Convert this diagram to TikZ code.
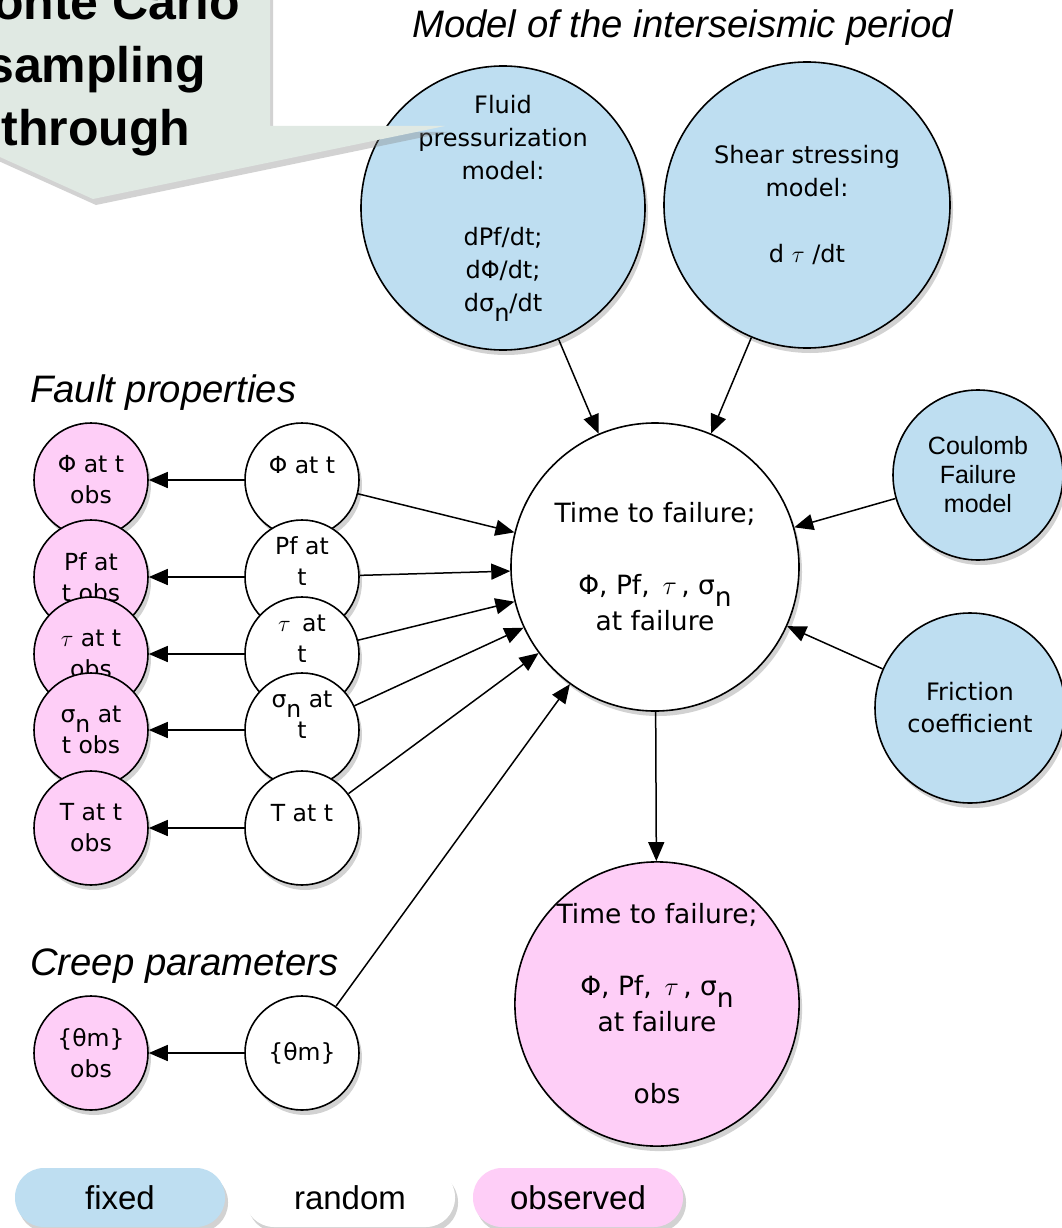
\RequirePackage{fix-cm}
\documentclass[tikz,border=0pt]{standalone}
\usepackage{fontspec}
\setmainfont{DejaVu Sans}
\newfontfamily\hel{Liberation Sans}
\usetikzlibrary{arrows.meta,shadows}
\definecolor{fixblue}{RGB}{190,222,241}
\definecolor{obspink}{RGB}{254,206,247}
\definecolor{calloutc}{RGB}{224,233,227}
\newcommand\mysig{σ\raisebox{-0.42em}{n}}
\begin{document}
\begin{tikzpicture}[x=1pt,y=-1pt,
  every node/.style={inner sep=0pt,align=center},
  shad/.style={drop shadow={opacity=0.35,shadow xshift=3pt,shadow yshift=-5pt}},
  circ/.style={circle,draw,line width=1.6pt,shad},
  bluec/.style={circ,fill=fixblue},
  pinkc/.style={circ,fill=obspink},
  whitec/.style={circ,fill=white},
  smallc/.style={minimum size=114pt,font=\fontsize{23.5}{31}\selectfont},
  ed/.style={line width=1.5pt,-{Triangle[length=19pt,width=16pt]}},
  ttl/.style={anchor=base west,font=\hel\itshape\fontsize{38.3}{44}\selectfont},
  pill/.style={rounded corners=29pt,minimum width=210pt,minimum height=59pt,shad,font=\hel\fontsize{33}{38}\selectfont},
  calltext/.style={anchor=base,font=\hel\bfseries\fontsize{50}{63}\selectfont}
]
\useasboundingbox (0,0) rectangle (1062,1228);
\clip (0,0) rectangle (1062,1228);
\fill[white] (0,0) rectangle (1062,1228);

% titles
\node[ttl] (tmodel) at (412,38) {Model of the interseismic period};
\node[ttl] (tfault) at (30,402) {Fault properties};
\node[ttl] (tcreep) at (30,975) {Creep parameters};

% top models
\node[bluec,minimum size=284pt,font=\fontsize{24}{33}\selectfont] (fluid) at (503,208)
  {Fluid\\pressurization\\model:\\\mbox{}\\dPf/dt;\\dΦ/dt;\\d\mysig/dt};
\node[bluec,minimum size=286pt,font=\fontsize{24}{33}\selectfont] (shear) at (807,205)
  {Shear stressing\\model:\\\mbox{}\\d $\tau$ /dt};

% callout
\fill[calloutc,drop shadow={opacity=0.35,shadow xshift=3pt,shadow yshift=-6pt}]
  (-20,-20) -- (270,-20) -- (270,126) -- (445,126) -- (93,199) -- (-20,148) -- cycle;
\node[calltext] (mc1) at (96,20) {Monte Carlo};
\node[calltext] (mc2) at (96,83) {sampling};
\node[calltext] (mc3) at (96,146) {through};

% central
\node[whitec,minimum size=288pt,font=\fontsize{26.5}{36}\selectfont] (ttf) at (655,567)
  {Time to failure;\\\mbox{}\\Φ, Pf, \,$\tau$\,, \mysig\\at failure};

% right models
\node[bluec,minimum size=170pt,font=\hel\fontsize{25}{29}\selectfont] (coul) at (978,475)
  {Coulomb\\Failure\\model};
\node[bluec,minimum size=190pt,font=\fontsize{24}{32}\selectfont] (fric) at (970,708)
  {Friction\\coefficient};

% fault properties: observed
\node[pinkc,smallc] (phio) at (91,480) {Φ at t\\obs};
\node[pinkc,smallc] (pfo) at (91,577) {Pf at\\t obs};
\node[pinkc,smallc] (tauo) at (91,654) {$\tau$ at t\\obs};
\node[pinkc,smallc] (sigo) at (91,730) {\mysig\ at\\t obs};
\node[pinkc,smallc] (To) at (91,828) {T at t\\obs};

% fault properties: random
\node[whitec,smallc] (phiw) at (302,480) {Φ at t\\\mbox{}};
\node[whitec,smallc] (pfw) at (302,577) {Pf at\\t\\\mbox{}};
\node[whitec,smallc] (tauw) at (302,654) {$\tau$\, at\\t\\\mbox{}};
\node[whitec,smallc] (sigw) at (302,730) {\mysig\ at\\t\\\mbox{}};
\node[whitec,smallc] (Tw) at (302,828) {T at t\\\mbox{}};

% creep
\node[pinkc,smallc] (tho) at (91,1053) {\{θm\}\\obs};
\node[whitec,smallc] (thw) at (302,1053) {\{θm\}};

% bottom observed
\node[pinkc,minimum size=282pt,font=\fontsize{26.5}{36}\selectfont] (ttfo) at (657,1004)
  {Time to failure;\\\mbox{}\\Φ, Pf, \,$\tau$\,, \mysig\\at failure\\\mbox{}\\obs};

% edges
\draw[ed] (phiw) -- (phio);
\draw[ed] (pfw) -- (pfo);
\draw[ed] (tauw) -- (tauo);
\draw[ed] (sigw) -- (sigo);
\draw[ed] (Tw) -- (To);
\draw[ed] (thw) -- (tho);
\draw[ed] (phiw) -- (ttf);
\draw[ed] (pfw) -- (ttf);
\draw[ed] (tauw) -- (ttf);
\draw[ed] (sigw) -- (ttf);
\draw[ed] (Tw) -- (ttf);
\draw[ed] (thw) -- (ttf);
\draw[ed] (fluid) -- (ttf);
\draw[ed] (shear) -- (ttf);
\draw[ed] (coul) -- (ttf);
\draw[ed] (fric) -- (ttf);
\draw[ed] (ttf) -- (ttfo);

% legend
\node[pill,fill=fixblue] (lfixed) at (120,1197.5) {fixed};
\node[pill,fill=white] (lrandom) at (350,1197.5) {random};
\node[pill,fill=obspink] (lobs) at (578,1197.5) {observed};
\end{tikzpicture}
\end{document}
